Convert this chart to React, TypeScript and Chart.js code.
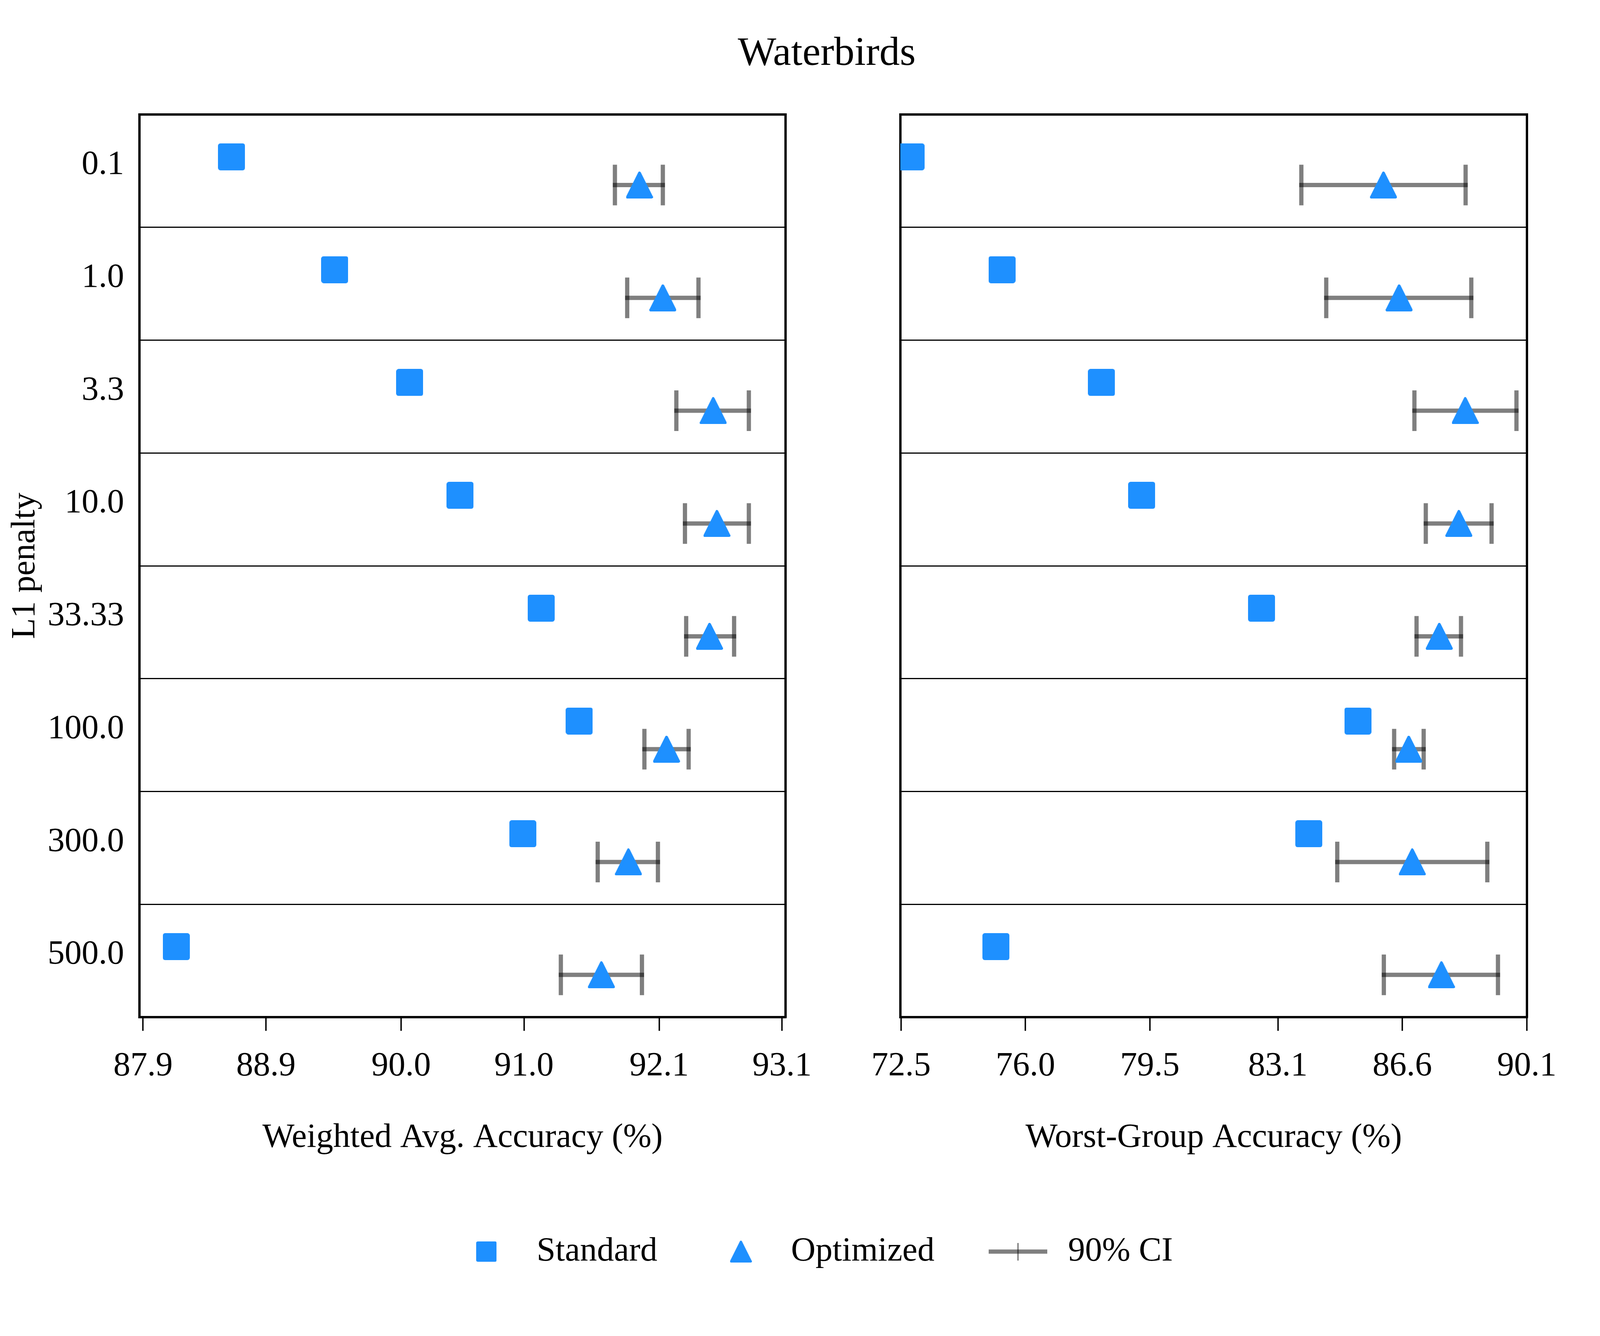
import React, { useEffect, useRef } from 'react';
import { Chart, registerables } from 'chart.js';

Chart.register(...registerables);

// ---------------- data ----------------
const categories = ['0.1', '1.0', '3.3', '10.0', '33.33', '100.0', '300.0', '500.0'];

const avgStandard = [88.62, 89.46, 90.07, 90.48, 91.14, 91.45, 90.99, 88.17];
const avgOptimized = [91.94, 92.13, 92.54, 92.57, 92.51, 92.16, 91.85, 91.63];
const avgCiLow = [91.74, 91.84, 92.24, 92.31, 92.32, 91.98, 91.6, 91.3];
const avgCiHigh = [92.13, 92.42, 92.83, 92.83, 92.71, 92.34, 92.09, 91.96];

const worstStandard = [72.78, 75.34, 78.14, 79.27, 82.64, 85.35, 83.97, 75.17];
const worstOptimized = [86.07, 86.51, 88.37, 88.19, 87.64, 86.78, 86.88, 87.7];
const worstCiLow = [83.76, 84.46, 86.94, 87.26, 87.0, 86.37, 84.77, 86.08];
const worstCiHigh = [88.38, 88.54, 89.81, 89.11, 88.25, 87.2, 88.99, 89.29];

const avgTicks = [87.9, 88.9, 90.0, 91.0, 92.1, 93.1];
const worstTicks = [72.5, 76.0, 79.5, 83.1, 86.6, 90.1];

const legendNames = ['Standard', 'Optimized', '90% CI'];
const figureTitle = 'Waterbirds';
const yAxisTitle = 'L1 penalty';
const avgAxisTitle = 'Weighted Avg. Accuracy (%)';
const worstAxisTitle = 'Worst-Group Accuracy (%)';

// ---------------- style ----------------
const FONT = "'Liberation Serif', 'Times New Roman', serif";
const BLUE = '#1E90FF';
const CI_COLOR = 'rgba(0,0,0,0.5)';
const X_PAD = 0.3;
const STD_SHIFT = -0.125;
const OPT_SHIFT = 0.125;

// reference geometry (pixels of the 7852 x 3419 reference figure)
const REF_W = 7852;
const REF_H = 3419;
const REF = {
  plotTop: 293,
  plotBottom: 2603,
  leftX0: 684,
  leftX1: 4003,
  rightX0: 4335,
  rightX1: 7656,
  rightCanvasX: 4200,
  panelH: 3050,
  titleCX: 4057,
  titleCY: 138.5,
  tickLabelCY: 2729.5,
  tickLen: 35,
  xTitleCY: 2912,
  yTitleCX: 125.5,
  yLabelRight: 609,
  yLabelShift: -15,
  legendCY: 3203,
  legendMarkerX: 2493,
  legendTextX: 2739,
  legendGap: 410,
  legendEndX: 5650,
  legendCanvasY: 2400,
  titleCanvasH: 600,
};

function computeLayout() {
  const W = Math.max(1, Math.floor(window.innerWidth || REF_W));
  const H = Math.max(1, Math.floor(window.innerHeight || REF_H));
  const sx = W / REF_W;
  const sy = H / REF_H;
  const k = Math.sqrt(sx * sy);
  const fs = Math.min(1, Math.min(sx, sy) * 1.15);
  const F = 145 * fs;
  const T = 174 * fs;
  return {
    W,
    H,
    sx,
    sy,
    k,
    F,
    T,
    plotTop: REF.plotTop * sy,
    plotBottom: REF.plotBottom * sy,
    panelH: Math.round(REF.panelH * sy),
    left: { canvasX: 0, plotLeft: REF.leftX0 * sx, plotRight: REF.leftX1 * sx, canvasW: Math.round(REF.leftX1 * sx + 30) },
    right: {
      canvasX: Math.round(REF.rightCanvasX * sx),
      plotLeft: REF.rightX0 * sx,
      plotRight: REF.rightX1 * sx,
      canvasW: Math.round(REF.rightX1 * sx + 30) - Math.round(REF.rightCanvasX * sx),
    },
    spine: Math.max(2, Math.round(8 * k)),
    sep: Math.max(1, Math.round(4 * k)),
    tickW: Math.max(1, 5 * k),
    tickLen: REF.tickLen * sy,
    ciW: 15 * k,
    capR: 52 * sy,
    marker: Math.round(95 * k),
    titleCanvasH: Math.round(REF.titleCanvasH * sy),
    legendCanvasY: Math.round(REF.legendCanvasY * sy),
  };
}
type Layout = ReturnType<typeof computeLayout>;

function makeSquare(size: number, radius: number) {
  const c = document.createElement('canvas');
  c.width = size;
  c.height = size;
  const g = c.getContext('2d')!;
  g.fillStyle = BLUE;
  g.beginPath();
  (g as any).roundRect(0, 0, size, size, radius);
  g.fill();
  return c;
}

function makeTriangle(size: number, lw: number) {
  const c = document.createElement('canvas');
  c.width = size;
  c.height = size;
  const g = c.getContext('2d')!;
  g.fillStyle = BLUE;
  g.strokeStyle = BLUE;
  g.lineWidth = lw;
  g.lineJoin = 'round';
  const h = lw / 2;
  g.beginPath();
  g.moveTo(size / 2, h);
  g.lineTo(size - h, size - h);
  g.lineTo(h, size - h);
  g.closePath();
  g.fill();
  g.stroke();
  return c;
}

function makeCiIcon(w: number, h: number, lineW: number, tickW: number) {
  const c = document.createElement('canvas');
  c.width = Math.round(w);
  c.height = Math.round(h);
  const g = c.getContext('2d')!;
  g.fillStyle = CI_COLOR;
  g.fillRect(0, (c.height - lineW) / 2, c.width, lineW);
  g.fillRect((c.width - tickW) / 2, 0, tickW, c.height);
  return c;
}

type PanelSpec = {
  standard: number[];
  optimized: number[];
  lo: number[];
  hi: number[];
  ticks: number[];
  xTitle: string;
  showY: boolean;
  box: { canvasX: number; canvasW: number; plotLeft: number; plotRight: number };
};

function panelConfig(p: PanelSpec, L: Layout, sq: HTMLCanvasElement, tri: HTMLCanvasElement): any {
  const all = [...p.standard, ...p.optimized, ...p.lo, ...p.hi];
  const xMin = Math.min(...all) - X_PAD;
  const xMax = Math.max(...all) + X_PAD;
  const n = categories.length;
  const ci: any[] = [];
  p.lo.forEach((lo, i) => {
    ci.push({ x: lo, y: i + OPT_SHIFT }, { x: p.hi[i], y: i + OPT_SHIFT }, { x: lo, y: null });
  });
  const font = { family: FONT, size: L.F, weight: 'normal' as const, lineHeight: 1.2 };
  const yAxisWidth = p.box.plotLeft - p.box.canvasX;
  const rightPad = p.box.canvasW - (p.box.plotRight - p.box.canvasX);
  const xTickPad = REF.tickLabelCY * L.sy - L.plotBottom - L.tickLen - 0.6 * L.F;
  const xTitlePadBottom = Math.max(0, L.panelH - (REF.xTitleCY * L.sy + 0.6 * L.F));
  const yTickPad = p.box.plotLeft - REF.yLabelRight * L.sx;
  const yTitlePad = Math.max(0, REF.yTitleCX * L.sx - 0.6 * L.F);
  return {
    type: 'scatter',
    data: {
      datasets: [
        {
          label: legendNames[1],
          data: p.optimized.map((v, i) => ({ x: v, y: i + OPT_SHIFT })),
          pointStyle: tri,
          pointRadius: L.marker / 2,
          order: 0,
        },
        {
          label: legendNames[0],
          data: p.standard.map((v, i) => ({ x: v, y: i + STD_SHIFT })),
          pointStyle: sq,
          pointRadius: L.marker / 2,
          order: 1,
        },
        {
          label: legendNames[2],
          data: ci,
          showLine: true,
          spanGaps: false,
          borderColor: CI_COLOR,
          borderWidth: L.ciW,
          borderCapStyle: 'square',
          pointStyle: 'line',
          pointRotation: 90,
          pointRadius: L.capR,
          pointBorderWidth: L.ciW,
          pointBorderColor: CI_COLOR,
          pointBackgroundColor: CI_COLOR,
          order: 2,
        },
      ],
    },
    options: {
      responsive: false,
      animation: false,
      devicePixelRatio: 1,
      events: [],
      layout: { padding: { left: 0, top: 0, right: rightPad, bottom: 0 } },
      plugins: { legend: { display: false }, tooltip: { enabled: false }, title: { display: false } },
      scales: {
        x: {
          type: 'linear',
          position: 'bottom',
          min: xMin,
          max: xMax,
          afterBuildTicks: (s: any) => {
            s.ticks = p.ticks.map((v) => ({ value: v }));
          },
          afterFit: (s: any) => {
            s.height = L.panelH - L.plotBottom;
          },
          ticks: {
            callback: (v: any) => Number(v).toFixed(1),
            font,
            color: '#000',
            padding: xTickPad,
            maxRotation: 0,
            minRotation: 0,
            autoSkip: false,
          },
          grid: {
            drawOnChartArea: false,
            drawTicks: true,
            tickLength: L.tickLen,
            tickWidth: L.tickW,
            lineWidth: L.tickW,
            color: '#000',
            tickColor: '#000',
          },
          border: { display: true, width: L.spine, color: '#000' },
          title: { display: true, text: p.xTitle, font, color: '#000', padding: { top: 0, bottom: xTitlePadBottom } },
        },
        x2: {
          type: 'linear',
          position: 'top',
          min: xMin,
          max: xMax,
          afterFit: (s: any) => {
            s.height = L.plotTop;
          },
          ticks: { display: false },
          grid: { display: false, drawTicks: false },
          border: { display: true, width: L.spine, color: '#000' },
        },
        y: {
          type: 'linear',
          position: 'left',
          min: -0.5,
          max: n - 0.5,
          reverse: true,
          afterBuildTicks: (s: any) => {
            const t: any[] = [];
            for (let j = 0; j <= 2 * n; j++) t.push({ value: -0.5 + j * 0.5 });
            s.ticks = t;
          },
          afterFit: (s: any) => {
            s.width = yAxisWidth;
          },
          ticks: {
            display: p.showY,
            callback: (v: any) => (Number.isInteger(v) ? categories[v] : ''),
            font,
            color: '#000',
            padding: yTickPad,
            autoSkip: false,
            labelOffset: REF.yLabelShift * L.sy,
          },
          grid: {
            drawTicks: false,
            lineWidth: L.sep,
            color: (ctx: any) =>
              ctx.tick && Math.abs(ctx.tick.value % 1) === 0.5 ? '#000' : 'rgba(0,0,0,0)',
          },
          border: { display: true, width: L.spine, color: '#000' },
          title: {
            display: p.showY,
            text: yAxisTitle,
            font,
            color: '#000',
            padding: { top: yTitlePad, bottom: 0 },
          },
        },
        y2: {
          type: 'linear',
          position: 'right',
          min: -0.5,
          max: n - 0.5,
          afterFit: (s: any) => {
            s.width = 0;
          },
          ticks: { display: false },
          grid: { display: false, drawTicks: false },
          border: { display: true, width: L.spine, color: '#000' },
        },
      },
    },
  };
}

export default function App() {
  const L = computeLayout();
  const titleRef = useRef<HTMLCanvasElement>(null);
  const leftRef = useRef<HTMLCanvasElement>(null);
  const rightRef = useRef<HTMLCanvasElement>(null);
  const legendRef = useRef<HTMLCanvasElement>(null);
  const legendH = L.H - L.legendCanvasY;

  useEffect(() => {
    const charts: Chart[] = [];
    const sq = makeSquare(L.marker, Math.max(2, Math.round(8 * L.k)));
    const tri = makeTriangle(L.marker, Math.max(3, 10 * L.k));
    const legendSq = Math.round(72 * L.k);
    const legendTri = Math.round(78 * L.k);
    const legendIcons = [
      makeSquare(legendSq, Math.max(2, Math.round(6 * L.k))),
      makeTriangle(legendTri, Math.max(3, 8 * L.k)),
      makeCiIcon(288 * L.sx, 62 * L.k, L.ciW, Math.max(2, 5 * L.k)),
    ];

    // title
    const titlePadL = 2 * REF.titleCX * L.sx - L.W;
    if (titleRef.current) {
      charts.push(
        new Chart(titleRef.current, {
          type: 'scatter',
          data: { datasets: [] },
          options: {
            responsive: false,
            animation: false,
            devicePixelRatio: 1,
            events: [],
            layout: { padding: { left: Math.max(0, titlePadL), right: Math.max(0, -titlePadL), top: 0, bottom: 0 } },
            scales: { x: { display: false }, y: { display: false } },
            plugins: {
              legend: { display: false },
              tooltip: { enabled: false },
              title: {
                display: true,
                text: figureTitle,
                color: '#000',
                font: { family: FONT, size: L.T, weight: 'normal', lineHeight: 1.2 },
                padding: { top: Math.max(0, REF.titleCY * L.sy - 0.6 * L.T), bottom: 0 },
              },
            },
          },
        } as any)
      );
    }

    if (leftRef.current) {
      charts.push(
        new Chart(
          leftRef.current,
          panelConfig(
            {
              standard: avgStandard,
              optimized: avgOptimized,
              lo: avgCiLow,
              hi: avgCiHigh,
              ticks: avgTicks,
              xTitle: avgAxisTitle,
              showY: true,
              box: L.left,
            },
            L,
            sq,
            tri
          )
        )
      );
    }
    if (rightRef.current) {
      charts.push(
        new Chart(
          rightRef.current,
          panelConfig(
            {
              standard: worstStandard,
              optimized: worstOptimized,
              lo: worstCiLow,
              hi: worstCiHigh,
              ticks: worstTicks,
              xTitle: worstAxisTitle,
              showY: false,
              box: L.right,
            },
            L,
            sq,
            tri
          )
        )
      );
    }

    // legend
    if (legendRef.current) {
      const boxW = Math.max(10, 2 * ((REF.legendTextX - REF.legendMarkerX) * L.sx - L.F / 2));
      const gap = Math.max(10, REF.legendGap * L.sx - boxW / 2);
      const refStart = REF.legendMarkerX * L.sx - boxW / 2;
      const refEnd = REF.legendEndX * L.sx;
      const center = (refStart + refEnd) / 2;
      const padL = 2 * center - L.W;
      const rowCenterInCanvas = REF.legendCY * L.sy - L.legendCanvasY;
      const padB = Math.max(0, legendH - L.F / 2 - 10 - rowCenterInCanvas);
      charts.push(
        new Chart(legendRef.current, {
          type: 'scatter',
          data: { datasets: legendNames.map((name) => ({ label: name, data: [] })) },
          options: {
            responsive: false,
            animation: false,
            devicePixelRatio: 1,
            events: [],
            layout: { padding: { left: Math.max(0, padL), right: Math.max(0, -padL), top: 0, bottom: padB } },
            scales: { x: { display: false }, y: { display: false } },
            plugins: {
              tooltip: { enabled: false },
              legend: {
                display: true,
                position: 'bottom',
                maxHeight: legendH,
                labels: {
                  usePointStyle: true,
                  pointStyleWidth: boxW,
                  padding: gap,
                  color: '#000',
                  font: { family: FONT, size: L.F, weight: 'normal' },
                  generateLabels: () =>
                    legendNames.map((text, i) => ({
                      text,
                      pointStyle: legendIcons[i],
                      fillStyle: 'rgba(0,0,0,0)',
                      strokeStyle: 'rgba(0,0,0,0)',
                      lineWidth: 0,
                      hidden: false,
                      datasetIndex: i,
                      fontColor: '#000',
                    })),
                },
              },
            },
          },
        } as any)
      );
    }

    return () => {
      charts.forEach((c) => c.destroy());
    };
  }, []);

  const abs = (x: number, y: number, w: number, h: number): React.CSSProperties => ({
    position: 'absolute',
    left: x,
    top: y,
    width: w,
    height: h,
  });

  return (
    <div style={{ position: 'absolute', left: 0, top: 0, width: L.W, height: L.H, background: '#fff', overflow: 'hidden' }}>
      <canvas ref={titleRef} width={L.W} height={L.titleCanvasH} style={abs(0, 0, L.W, L.titleCanvasH)} />
      <canvas ref={legendRef} width={L.W} height={legendH} style={abs(0, L.legendCanvasY, L.W, legendH)} />
      <canvas ref={leftRef} width={L.left.canvasW} height={L.panelH} style={abs(L.left.canvasX, 0, L.left.canvasW, L.panelH)} />
      <canvas ref={rightRef} width={L.right.canvasW} height={L.panelH} style={abs(L.right.canvasX, 0, L.right.canvasW, L.panelH)} />
    </div>
  );
}
